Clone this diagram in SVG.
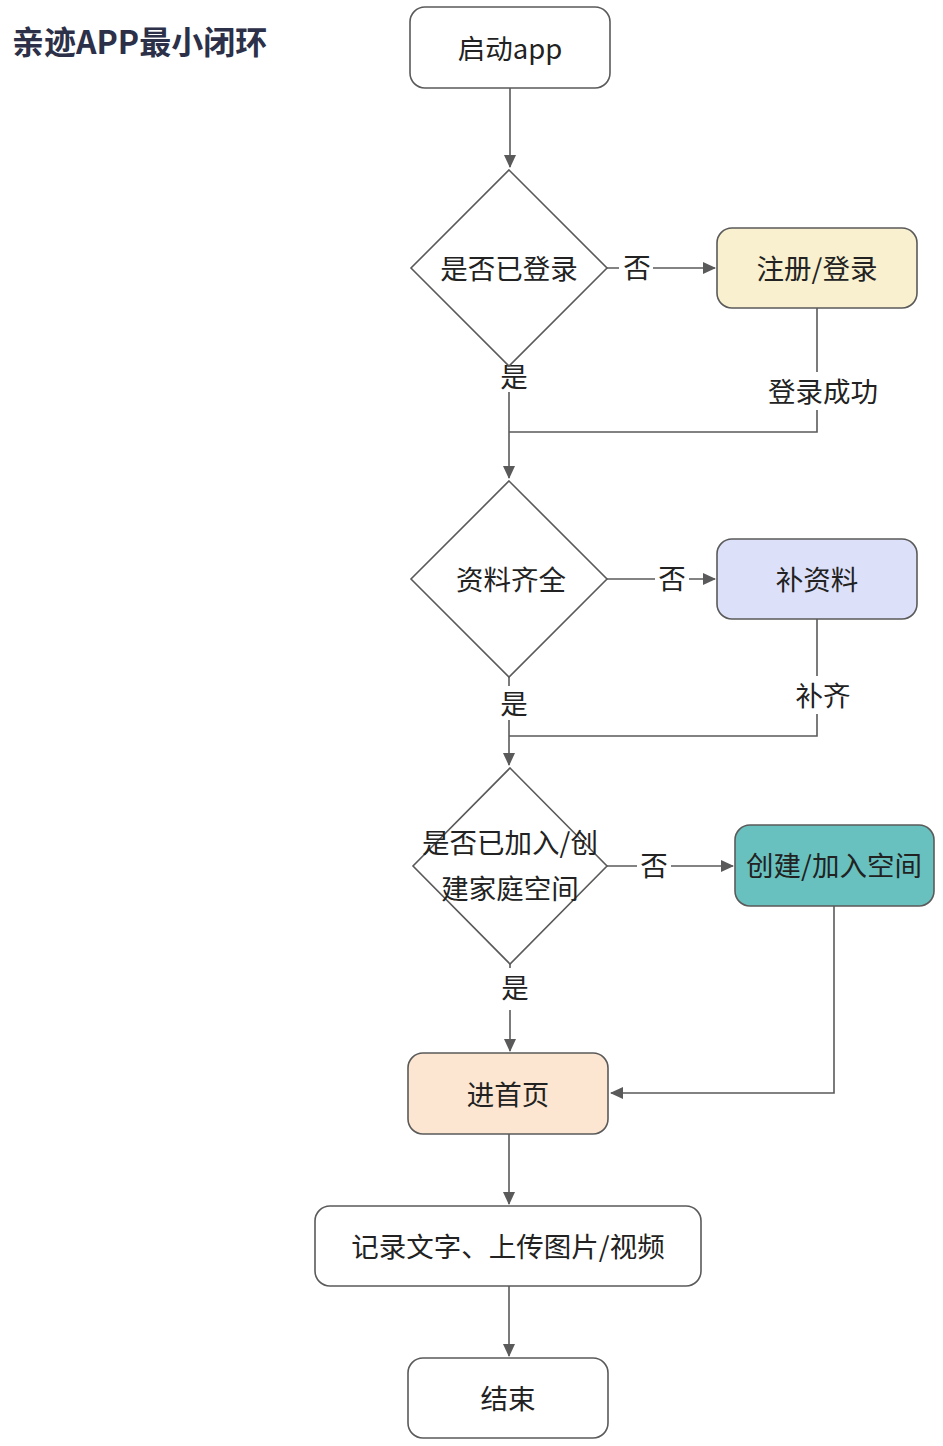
<svg xmlns="http://www.w3.org/2000/svg" width="943" height="1446" viewBox="0 0 943 1446">
<style>
.t{font-family:"Noto Sans CJK SC","Noto Sans",sans-serif;font-size:27.5px;fill:#222;text-anchor:middle;dominant-baseline:central}
.box{stroke:#5a5a5a;stroke-width:1.6}
.dia{fill:#fff;stroke:#5a5a5a;stroke-width:1.6}
.ln{fill:none;stroke:#5a5a5a;stroke-width:1.6}
.lb{fill:#fff}
</style>
<defs>
<marker id="arr" markerWidth="14" markerHeight="14" refX="12" refY="6" orient="auto" markerUnits="userSpaceOnUse">
<path d="M0,0 L13,6 L0,12 Z" fill="#5a5a5a"/>
</marker>
</defs>
<rect width="943" height="1446" fill="#fff"/>
<text x="12" y="40" font-family="Noto Sans CJK SC,Noto Sans,sans-serif" font-size="32" font-weight="bold" fill="#2c3048" dominant-baseline="central">亲迹APP最小闭环</text>

<g id="connectors">
<path class="ln" d="M510,88 L510,167" marker-end="url(#arr)"/>
<path class="ln" d="M607,268 L715,268" marker-end="url(#arr)"/>
<path class="ln" d="M817,308 L817,432 L509,432"/>
<path class="ln" d="M509,366 L509,478" marker-end="url(#arr)"/>
<path class="ln" d="M607,579 L715,579" marker-end="url(#arr)"/>
<path class="ln" d="M817,619 L817,736 L509,736"/>
<path class="ln" d="M509,677 L509,765" marker-end="url(#arr)"/>
<path class="ln" d="M607,866 L733,866" marker-end="url(#arr)"/>
<path class="ln" d="M510,963 L510,1051" marker-end="url(#arr)"/>
<path class="ln" d="M834,906 L834,1093 L611,1093" marker-end="url(#arr)"/>
<path class="ln" d="M509,1134 L509,1204" marker-end="url(#arr)"/>
<path class="ln" d="M509,1286 L509,1356" marker-end="url(#arr)"/>
<rect class="lb" x="619" y="252" width="34" height="32"/>
<text class="t" x="637" y="266">否</text>
<rect class="lb" x="497" y="360" width="34" height="32"/>
<text class="t" x="514" y="375">是</text>
<rect class="lb" x="763" y="372" width="122" height="38"/>
<text class="t" x="823" y="390">登录成功</text>
<rect class="lb" x="655" y="562" width="34" height="32"/>
<text class="t" x="672" y="577">否</text>
<rect class="lb" x="497" y="686" width="34" height="34"/>
<text class="t" x="514" y="702">是</text>
<rect class="lb" x="791" y="676" width="64" height="38"/>
<text class="t" x="823" y="694">补齐</text>
<rect class="lb" x="637" y="850" width="34" height="32"/>
<text class="t" x="654" y="864">否</text>
<rect class="lb" x="498" y="968" width="34" height="42"/>
<text class="t" x="515" y="986">是</text>
</g>

<g id="start">
<rect class="box" x="410" y="7" width="200" height="81" rx="15" fill="#fff"/>
<text class="t" x="510" y="47">启动app</text>
</g>
<g id="d1">
<polygon class="dia" points="509,170 607,268 509,366 411,268"/>
<text class="t" x="509" y="267">是否已登录</text>
</g>
<g id="login">
<rect class="box" x="717" y="228" width="200" height="80" rx="15" fill="#f8f0cf"/>
<text class="t" x="817" y="267">注册/登录</text>
</g>
<g id="d2">
<polygon class="dia" points="509,481 607,579 509,677 411,579"/>
<text class="t" x="511" y="578">资料齐全</text>
</g>
<g id="profile">
<rect class="box" x="717" y="539" width="200" height="80" rx="15" fill="#dde0f9"/>
<text class="t" x="817" y="578">补资料</text>
</g>
<g id="d3">
<polygon class="dia" points="510,768 607,866 510,964 413,866"/>
<text class="t" x="510" y="841">是否已加入/创</text>
<text class="t" x="510" y="887">建家庭空间</text>
</g>
<g id="space">
<rect class="box" x="735" y="825" width="199" height="81" rx="15" fill="#68c1bf" stroke="#4d6e6c"/>
<text class="t" x="834" y="864" fill="#1e2e2e">创建/加入空间</text>
</g>
<g id="home">
<rect class="box" x="408" y="1053" width="200" height="81" rx="15" fill="#fde6d1"/>
<text class="t" x="508" y="1093">进首页</text>
</g>
<g id="record">
<rect class="box" x="315" y="1206" width="386" height="80" rx="15" fill="#fff"/>
<text class="t" x="508" y="1245">记录文字、上传图片/视频</text>
</g>
<g id="end">
<rect class="box" x="408" y="1358" width="200" height="80" rx="15" fill="#fff"/>
<text class="t" x="508" y="1397">结束</text>
</g>
</svg>
